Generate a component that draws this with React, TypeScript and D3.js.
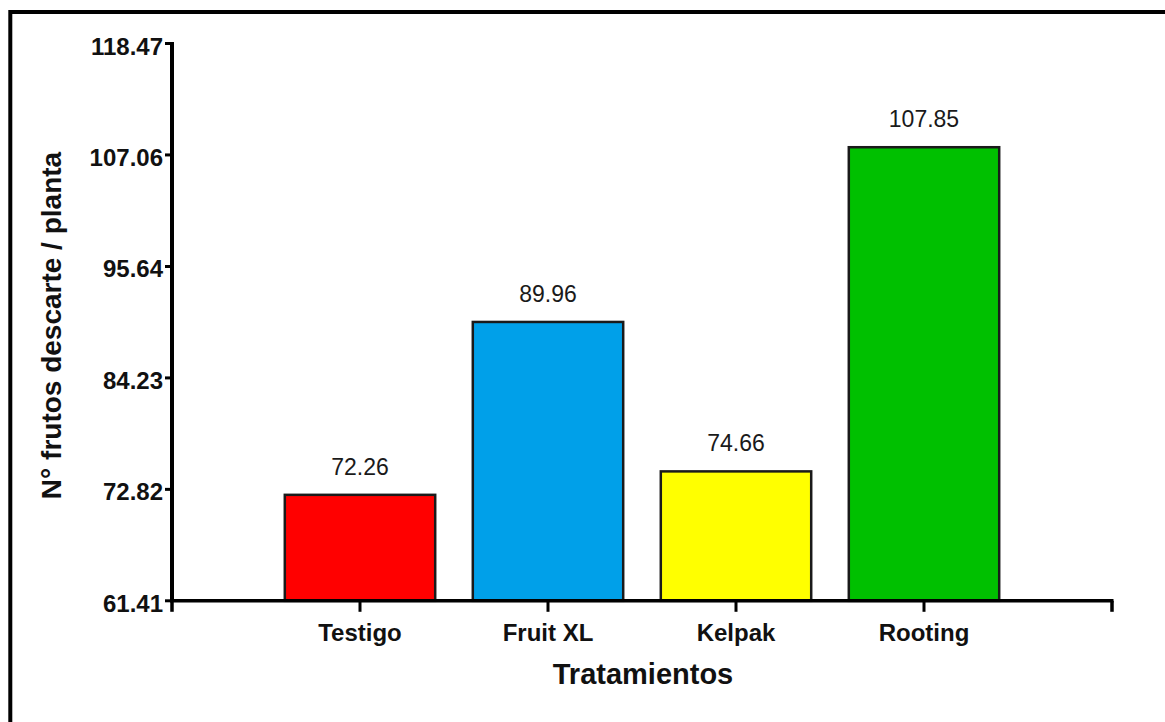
import React from "react";
import * as d3 from "d3";

const categories = ["Testigo", "Fruit XL", "Kelpak", "Rooting"];
const values = [72.26, 89.96, 74.66, 107.85];
const valueLabels = ["72.26", "89.96", "74.66", "107.85"];
const barColors = ["#FF0000", "#00A0E9", "#FFFF00", "#00C000"];
const yTicks = [61.41, 72.82, 84.23, 95.64, 107.06, 118.47];
const yTickLabels = ["61.41", "72.82", "84.23", "95.64", "107.06", "118.47"];
const xEndTicks = [0, 5];
const yTitle = "N° frutos descarte / planta";
const xTitle = "Tratamientos";

const W = 1165;
const H = 722;
const FONT = "'Liberation Sans', Arial, sans-serif";

export default function App() {
  const x = d3.scaleLinear().domain([0, 5]).range([172, 1112]);
  const y = d3.scaleLinear().domain([61.41, 118.47]).range([600.8, 43.5]);
  const barHalf = 0.4;

  return (
    <svg
      width={W}
      height={H}
      style={{ position: "absolute", left: 0, top: 0, background: "#fff" }}
    >
      <rect x={0} y={0} width={W} height={H} fill="#fff" />
      <rect x={10.3} y={12} width={1300} height={900} fill="none" stroke="#000" strokeWidth={4} />

      {/* bars */}
      {categories.map((c, i) => {
        const x0 = x(i + 1 - barHalf);
        const x1 = x(i + 1 + barHalf);
        const yt = y(values[i]);
        return (
          <g key={c}>
            <rect
              x={x0}
              y={yt}
              width={x1 - x0}
              height={y(61.41) - yt}
              fill={barColors[i]}
              stroke="#1a1a1a"
              strokeWidth={2.5}
            />
            <text
              x={x(i + 1)}
              y={yt - 20}
              textAnchor="middle"
              fontFamily={FONT}
              fontSize={23}
              fill="#1a1a1a"
            >
              {valueLabels[i]}
            </text>
          </g>
        );
      })}

      {/* y axis */}
      <line x1={x(0)} x2={x(0)} y1={y(118.47) - 1.5} y2={y(61.41)} stroke="#000" strokeWidth={4} />
      {yTicks.map((t, i) => (
        <g key={t}>
          <line x1={x(0) - 7} x2={x(0)} y1={y(t)} y2={y(t)} stroke="#000" strokeWidth={3} />
          <text
            x={163}
            y={y(t) + 11}
            textAnchor="end"
            fontFamily={FONT}
            fontWeight="bold"
            fontSize={24}
            fill="#111"
          >
            {yTickLabels[i]}
          </text>
        </g>
      ))}

      {/* x axis */}
      <line x1={x(0) - 2} x2={x(5) + 1.5} y1={y(61.41)} y2={y(61.41)} stroke="#000" strokeWidth={3.5} />
      {xEndTicks.map((t) => (
        <line key={"e" + t} x1={x(t)} x2={x(t)} y1={y(61.41)} y2={y(61.41) + 11} stroke="#000" strokeWidth={3.5} />
      ))}
      {categories.map((c, i) => (
        <g key={"t" + c}>
          <line x1={x(i + 1)} x2={x(i + 1)} y1={y(61.41)} y2={y(61.41) + 11} stroke="#000" strokeWidth={3} />
          <text
            x={x(i + 1)}
            y={641}
            textAnchor="middle"
            fontFamily={FONT}
            fontWeight="bold"
            fontSize={24}
            fill="#111"
          >
            {c}
          </text>
        </g>
      ))}

      {/* titles */}
      <text
        x={643}
        y={684}
        textAnchor="middle"
        fontFamily={FONT}
        fontWeight="bold"
        fontSize={29}
        fill="#111"
      >
        {xTitle}
      </text>
      <text
        transform="translate(61,325.5) rotate(-90)"
        textAnchor="middle"
        fontFamily={FONT}
        fontWeight="bold"
        fontSize={28}
        fill="#111"
      >
        {yTitle}
      </text>
    </svg>
  );
}
